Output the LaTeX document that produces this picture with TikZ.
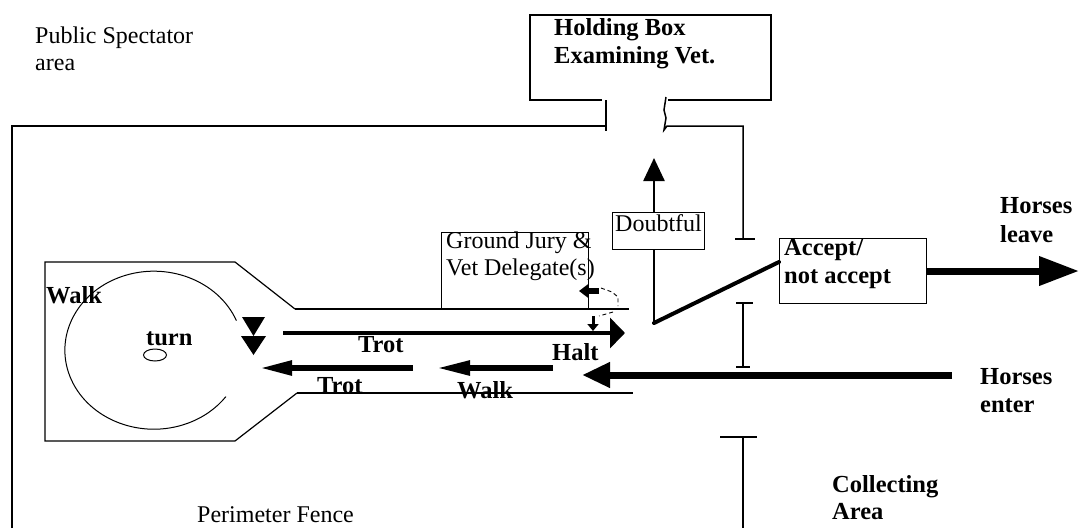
\documentclass[tikz,border=0pt]{standalone}
\usepackage{fontspec}
\setmainfont{Liberation Serif}
\usetikzlibrary{arrows.meta}
\begin{document}
\begin{tikzpicture}[x=1pt,y=-1pt,
  lbl/.style={anchor=base west, inner sep=0pt, font=\fontsize{24}{28}\selectfont},
  blbl/.style={anchor=base west, inner sep=0pt, font=\fontsize{24.5}{28}\selectfont\bfseries},
  fence/.style={line width=1.5pt},
  boxr/.style={draw, line width=1.3pt, inner sep=0pt, anchor=north west},
  gatebar/.style={line width=2.5pt},
  thinl/.style={line width=1.2pt}]
\useasboundingbox (0,0) rectangle (1080,528);

% ---------- texts ----------
\node[lbl] (pub1) at (35,43) {Public Spectator};
\node[lbl] (pub2) at (35,70) {area};
\node[lbl] (perim) at (197,522) {Perimeter Fence};
\node[blbl] (hold1) at (554,35) {Holding Box};
\node[blbl] (hold2) at (554,63) {Examining Vet.};
\node[blbl] (coll1) at (832,492) {Collecting};
\node[blbl] (coll2) at (832,519) {Area};
\node[blbl] (leave1) at (1000,213) {Horses};
\node[blbl] (leave2) at (1000,242) {leave};
\node[blbl] (enter1) at (980,384) {Horses};
\node[blbl] (enter2) at (980,412) {enter};

% ---------- holding box ----------
\draw[thinl] (602,100) -| (530,15) -| (771,100) -- (668,100);

% ---------- perimeter fence ----------
\draw[fence] (12,528) -- (12,126) -- (606,126);
\draw[fence] (606,100) -- (606,131);
\draw[fence] (666,97) -- (664,110) -- (666,118) -- (664,130) -- (667,126) -- (743,126) -- (743,239);
\draw[gatebar] (735,239) -- (755,239);
\draw[gatebar] (736,303) -- (753,303);
\draw[fence] (743,303) -- (743,367);
\draw[gatebar] (736,367) -- (750,367);
\draw[gatebar] (720,437) -- (757,437);
\draw[fence] (743,437) -- (743,528);

% ---------- paddock ----------
\draw[thinl] (295,309) -- (235,262) -- (45,262) -- (45,441) -- (235,441) -- (297,393);
\draw[thinl] (295,309) -- (629,309);
\draw[thinl] (297,393) -- (633,393);
\draw[line width=1pt] (236.4,320.6) arc[start angle=-22, end angle=-324, x radius=89, y radius=79];
\draw[line width=1pt] (155,355) ellipse[x radius=11.5, y radius=6];
\node[blbl] (walk1) at (46,303) {Walk};
\node[blbl] (turn) at (146,345) {turn};
\fill (242,317) -- (265,317) -- (253.5,336) -- cycle;
\fill (241,336) -- (266,336) -- (253.5,355) -- cycle;

% ---------- boxes ----------
\node[boxr, minimum width=147pt, minimum height=77pt] (jury) at (441,232) {};
\node[lbl] (jury1) at (446,248) {Ground Jury \&};
\node[lbl] (jury2) at (446,275) {Vet Delegate(s)};
\node[boxr, minimum width=92pt, minimum height=37pt] (doubt) at (612,212) {};
\node[lbl] (doubtt) at (615,231) {Doubtful};
\node[boxr, minimum width=147pt, minimum height=65pt] (accept) at (779,238) {};
\node[blbl] (acc1) at (784,255) {Accept/};
\node[blbl] (acc2) at (784,283) {not accept};

% ---------- lane arrows ----------
\draw[line width=3.5pt, -{Triangle[length=15pt, width=30pt]}] (283,333) -- (625,333);
\node[blbl] (trot1) at (358,352) {Trot};
\node[blbl] (halt) at (552,360) {Halt};
\draw[line width=5.5pt, -{Triangle[length=32pt, width=14pt]}] (413,368) -- (260,368);
\node[blbl] (trot2) at (317,393) {Trot};
\draw[line width=5.5pt, -{Triangle[length=33pt, width=14pt]}] (553,368) -- (437,368);
\node[blbl] (walk2) at (457,398) {Walk};
\coordinate (enterstart) at (952,375);
\draw[line width=7pt, -{Triangle[length=28pt, width=24pt]}] (enterstart) -- (582,375);

% ---------- jury small arrows ----------
\draw[line width=6pt, -{Triangle[length=9pt, width=13pt]}] (599,291) -- (579,291);
\draw[line width=0.9pt, dash pattern=on 4pt off 3pt] (601,288) -- (612,292) -- (618,297) -- (618,306);
\draw[line width=0.9pt, dash pattern=on 4pt off 3pt] (613,312) -- (599,316);
\draw[line width=3pt, -{Triangle[length=7pt, width=11pt]}] (593,316) -- (593,331);

% ---------- doubtful / accept ----------
\coordinate (doubtup) at (654,158);
\draw[line width=2.5pt, -{Triangle[length=23pt, width=21pt]}] (doubt.north -| 654,0) -- (doubtup);
\coordinate (turnpt) at (654,323);
\draw[line width=2.5pt] (doubt.south -| 654,0) -- (turnpt);
\draw[line width=4pt, line cap=round, line join=round] (turnpt) -- (accept.west |- 0,262);
\draw[line width=7pt, -{Triangle[length=40pt, width=28pt]}] (accept.east |- 0,271) -- (1079,271);
\end{tikzpicture}
\end{document}
